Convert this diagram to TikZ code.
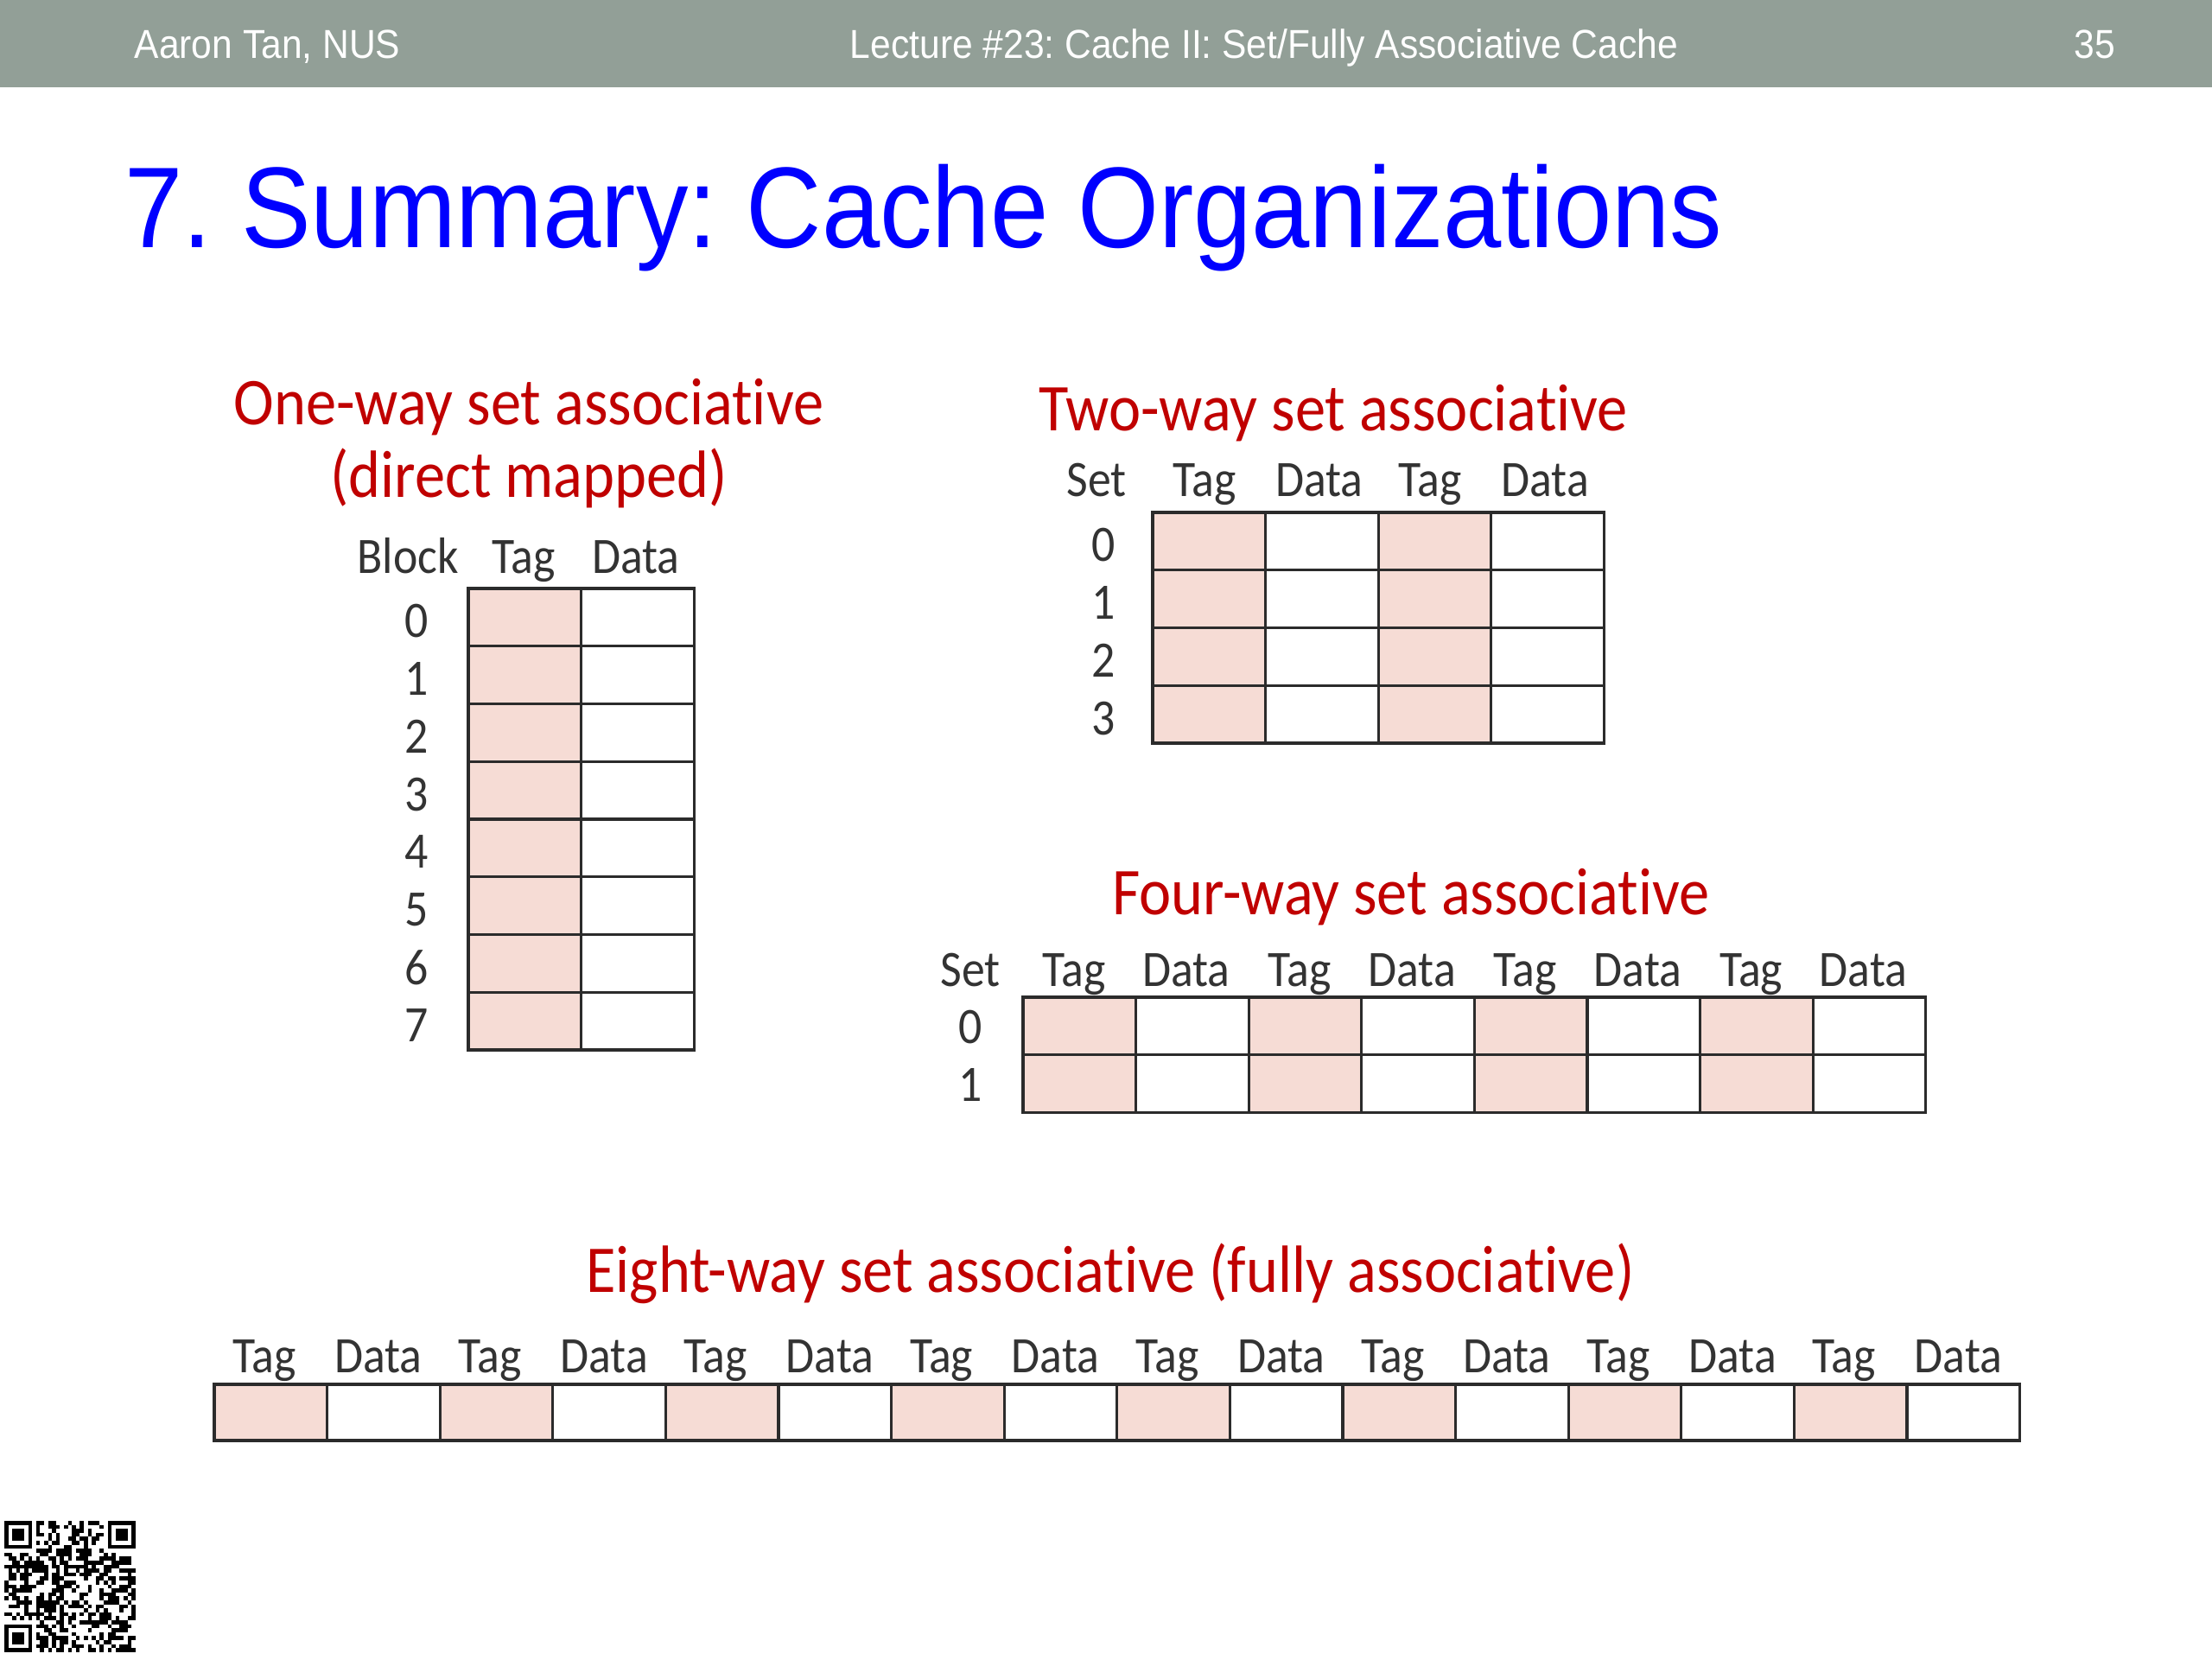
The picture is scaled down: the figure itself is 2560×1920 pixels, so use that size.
\documentclass[tikz,border=0pt]{standalone}
\usepackage{fontspec}
\setmainfont{Carlito}[FakeStretch=0.91,Ligatures=NoCommon]
\newfontfamily\arialfont{Liberation Sans}[FakeStretch=0.91]
\usetikzlibrary{positioning}
\definecolor{barra}{HTML}{929F97}
\definecolor{azultit}{HTML}{0000FF}
\definecolor{rojo}{HTML}{C00000}
\definecolor{rosa}{HTML}{F6DCD5}
\definecolor{borde}{HTML}{2B2B2B}
\definecolor{tinta}{HTML}{333333}
\frenchspacing
\tikzset{
  pie/.style={font=\arialfont\fontsize{13.3}{15}\selectfont,text=white,inner sep=0pt,anchor=base},
  titulo/.style={font=\arialfont\fontsize{37.8}{40}\selectfont,text=azultit,inner sep=0pt,anchor=base west},
  rotulo/.style={font=\fontsize{22}{26}\selectfont,text=rojo,inner sep=0pt,anchor=base},
  cabeza/.style={font=\fontsize{16.8}{20}\selectfont,text=tinta,inner sep=0pt,anchor=base},
  indice/.style={font=\fontsize{16.8}{20}\selectfont,text=tinta,inner sep=0pt},
  celtag/.style={fill=rosa,draw=borde,line width=0.9pt},
  celdato/.style={fill=white,draw=borde,line width=0.9pt},
}

\begin{document}
\begin{tikzpicture}[x=0.01cm,y=-0.01cm]
  \fill[white] (0,0) rectangle (2560,1920);
  \useasboundingbox (0,0) rectangle (2560,1920);
  % barra superior
  \fill[barra] (0,0) rectangle (2560,101);
  \node[pie,anchor=base west] (autor) at (155,67) {Aaron Tan, NUS};
  \node[pie] (leccion) at (1463,67) {Lecture \#23: Cache II: Set/Fully Associative Cache};
  \node[pie] (pagina) at (2424,67) {35};
  \node[titulo] (tit) at (144,286) {7. Summary: Cache Organizations};

  % una via
  \node[rotulo] (uno-a) at (612,491) {One-way set associative};
  \node[rotulo] (uno-b) at (612,575) {(direct mapped)};
  \node[cabeza] (uno-blk) at (472,663) {Block};
  \node[cabeza] (uno-tag) at (606,663) {Tag};
  \node[cabeza] (uno-dat) at (736,663) {Data};
  \foreach \r in {0,...,7}{
    \draw[celtag] (542,681+\r*66.75) rectangle ++(130.6,66.75);
    \draw[celdato] (672.6,681+\r*66.75) rectangle ++(130.6,66.75);
    \node[indice] (uno-n\r) at (482,719+\r*66.75) {\r};
  }

  % dos vias
  \node[rotulo] (dos-a) at (1543,498) {Two-way set associative};
  \node[cabeza] (dos-set) at (1269,574) {Set};
  \foreach \k in {0,1}{
    \node[cabeza] (dos-tag\k) at (1334+2*\k*130.6+60,574) {Tag};
    \node[cabeza] (dos-dat\k) at (1334+2*\k*130.6+193,574) {Data};
  }
  \foreach \r in {0,...,3}{
    \foreach \k in {0,1}{
      \draw[celtag] (1334+2*\k*130.6,593+\r*66.75) rectangle ++(130.6,66.75);
      \draw[celdato] (1334+2*\k*130.6+130.6,593+\r*66.75) rectangle ++(130.6,66.75);
    }
    \node[indice] (dos-n\r) at (1277,631+\r*66.75) {\r};
  }

  % cuatro vias
  \node[rotulo] (cua-a) at (1633,1058) {Four-way set associative};
  \node[cabeza] (cua-set) at (1123,1141) {Set};
  \foreach \k in {0,...,3}{
    \node[cabeza] (cua-tag\k) at (1184+2*\k*130.6+59,1141) {Tag};
    \node[cabeza] (cua-dat\k) at (1184+2*\k*130.6+189,1141) {Data};
  }
  \foreach \r in {0,1}{
    \foreach \k in {0,...,3}{
      \draw[celtag] (1184+2*\k*130.6,1154+\r*66.6) rectangle ++(130.6,66.6);
      \draw[celdato] (1184+2*\k*130.6+130.6,1154+\r*66.6) rectangle ++(130.6,66.6);
    }
    \node[indice] (cua-n\r) at (1123,1189+\r*66.6) {\r};
  }

  % ocho vias
  \node[rotulo] (och-a) at (1285,1495) {Eight-way set associative (fully associative)};
  \foreach \k in {0,...,7}{
    \node[cabeza] (och-tag\k) at (248+2*\k*130.6+58,1588) {Tag};
    \node[cabeza] (och-dat\k) at (248+2*\k*130.6+190,1588) {Data};
    \draw[celtag] (248+2*\k*130.6,1602) rectangle ++(130.6,65);
    \draw[celdato] (248+2*\k*130.6+130.6,1602) rectangle ++(130.6,65);
  }

  % codigo QR
  \pgfmathsetseed{2718}
  \foreach \i in {0,...,32}{
    \foreach \j in {0,...,32}{
      \pgfmathtruncatemacro\bit{rnd<0.5}
      \pgfmathtruncatemacro\libre{((\i<8)&&(\j<8))||((\i>24)&&(\j<8))||((\i<8)&&(\j>24)) ? 0 : 1}
      \ifnum\libre=1 \ifnum\bit=1
        \fill[black] (5+\i*4.6,1760+\j*4.6) rectangle ++(4.6,4.6);
      \fi\fi
    }
  }
  \foreach \qx/\qy in {5/1760,124.6/1760,5/1879.6}{
    \fill[black] (\qx,\qy) rectangle ++(32.2,32.2);
    \fill[white] (\qx+4.6,\qy+4.6) rectangle ++(23,23);
    \fill[black] (\qx+9.2,\qy+9.2) rectangle ++(13.8,13.8);
  }
\end{tikzpicture}
\end{document}
